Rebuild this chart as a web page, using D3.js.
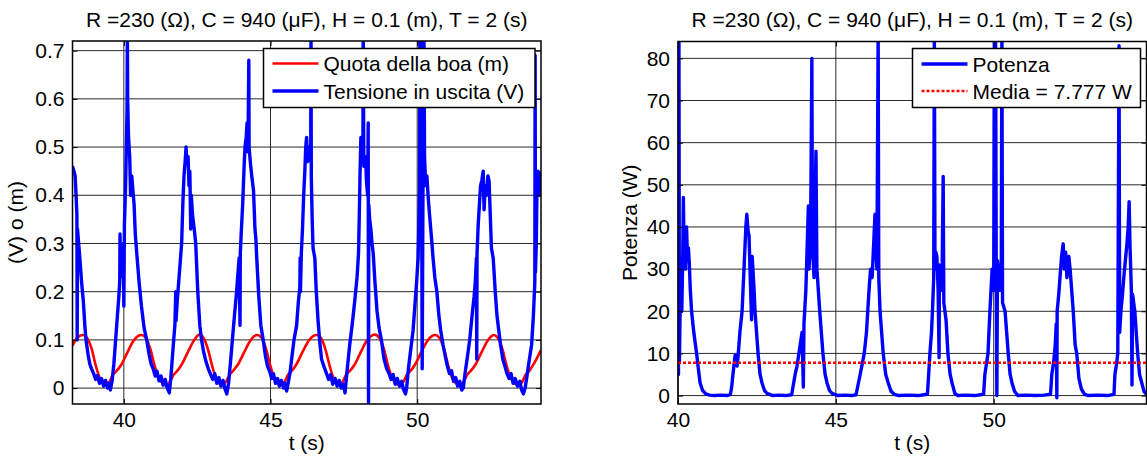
<!DOCTYPE html>
<html>
<head>
<meta charset="utf-8">
<script src="https://cdn.jsdelivr.net/npm/d3@7"></script>
<style>
  body { margin: 0; background: #fff; }
  text { font-family: "Liberation Sans", Arial, Helvetica, sans-serif; fill: #000; }
</style>
</head>
<body>
<svg id="grafico" width="1147" height="457"></svg>
<script>
// titolo comune ai due grafici
const titolo = "R =230 (\u03A9), C = 940 (\u03BCF), H = 0.1 (m), T = 2 (s)";

// quota della boa (m) in funzione del tempo (s)
const tempoQuota = [38.25, 38.4, 38.6, 38.75, 38.9, 39.05, 39.2, 39.38, 39.5, 39.63, 39.73, 39.93, 40.13, 40.33, 40.48, 40.6,
  40.75, 40.9, 41.05, 41.2, 41.45, 41.57, 41.7, 41.8, 42.0, 42.2, 42.38, 42.5, 42.57,
  42.72, 42.87, 43.02, 43.17, 43.35, 43.47, 43.6, 43.7, 43.9, 44.1, 44.3, 44.45, 44.55,
  44.7, 44.85, 45.0, 45.15, 45.35, 45.47, 45.6, 45.7, 45.9, 46.1, 46.3, 46.45, 46.57,
  46.72, 46.87, 47.02, 47.17, 47.33, 47.45, 47.58, 47.68, 47.88, 48.08, 48.28, 48.43, 48.56,
  48.71, 48.86, 49.01, 49.16, 49.4, 49.52, 49.65, 49.75, 49.95, 50.15, 50.35, 50.5, 50.61,
  50.76, 50.91, 51.06, 51.21, 51.45, 51.57, 51.7, 51.8, 52.0, 52.2, 52.4, 52.52, 52.6,
  52.75, 52.9, 53.05, 53.2, 53.45, 53.57, 53.7, 53.8, 54.0, 54.22];
const quotaBoa = [0.088, 0.104, 0.110, 0.104, 0.082, 0.045, 0.018, 0.006, 0.012, 0.028, 0.034, 0.05, 0.075, 0.098, 0.108, 0.110,
  0.104, 0.082, 0.046, 0.02, 0.006, 0.013, 0.028, 0.034, 0.052, 0.077, 0.098, 0.108, 0.111,
  0.104, 0.08, 0.044, 0.016, 0.006, 0.012, 0.027, 0.034, 0.05, 0.074, 0.097, 0.108, 0.110,
  0.104, 0.081, 0.045, 0.018, 0.006, 0.012, 0.028, 0.034, 0.051, 0.076, 0.098, 0.108, 0.110,
  0.104, 0.081, 0.045, 0.017, 0.006, 0.012, 0.028, 0.034, 0.05, 0.075, 0.098, 0.108, 0.111,
  0.104, 0.082, 0.046, 0.019, 0.006, 0.012, 0.028, 0.034, 0.051, 0.076, 0.098, 0.108, 0.110,
  0.104, 0.082, 0.046, 0.019, 0.006, 0.012, 0.027, 0.034, 0.05, 0.075, 0.098, 0.107, 0.110,
  0.104, 0.082, 0.046, 0.019, 0.006, 0.012, 0.028, 0.034, 0.053, 0.079];

// tensione in uscita (V) in funzione del tempo (s)
const tempoTensione = [38.25, 38.3, 38.34, 38.38, 38.4, 38.41, 38.42, 38.46, 38.5, 38.56, 38.62, 38.67, 38.71, 38.78, 38.84, 38.9, 38.97, 39.04, 39.1, 39.17, 39.24, 39.31, 39.38, 39.45, 39.5, 39.54,
  39.6, 39.66, 39.72, 39.78, 39.83, 39.86, 39.87, 39.88, 39.93, 39.98, 40.0, 40.02, 40.06, 40.09, 40.11, 40.12, 40.13, 40.16, 40.2, 40.23, 40.27, 40.31, 40.35, 40.39, 40.44, 40.52, 40.6, 40.69, 40.78, 40.86, 40.93, 41.0, 41.07, 41.13, 41.2, 41.27, 41.34, 41.41, 41.48, 41.55,
  41.6, 41.65, 41.7, 41.74, 41.77, 41.78, 41.82, 41.87, 41.92, 41.97, 42.01, 42.05, 42.09, 42.12, 42.15, 42.19, 42.22, 42.25, 42.28, 42.3, 42.34, 42.4, 42.45, 42.52, 42.59, 42.65, 42.72, 42.8, 42.88, 42.96, 43.03, 43.1, 43.17, 43.24, 43.31, 43.38, 43.45, 43.51,
  43.57, 43.63, 43.7, 43.77, 43.83, 43.88, 43.93, 43.96, 43.97, 44.0, 44.05, 44.1, 44.13, 44.17, 44.2, 44.23, 44.26, 44.27, 44.31, 44.36, 44.42, 44.47, 44.5, 44.53, 44.6, 44.67, 44.75, 44.83, 44.9, 44.97, 45.04, 45.1, 45.17, 45.24, 45.3, 45.37, 45.45, 45.5, 45.55,
  45.6, 45.66, 45.72, 45.8, 45.89, 45.95, 46.0, 46.01, 46.02, 46.05, 46.09, 46.13, 46.17, 46.2, 46.23, 46.26, 46.3, 46.37, 46.38, 46.39, 46.42, 46.45, 46.51, 46.56, 46.62, 46.68, 46.74, 46.82, 46.91, 46.98, 47.05, 47.12, 47.2, 47.27, 47.34, 47.41, 47.48, 47.54,
  47.6, 47.65, 47.7, 47.78, 47.87, 47.95, 48.0, 48.03, 48.05, 48.08, 48.11, 48.15, 48.16, 48.18, 48.2, 48.24, 48.27, 48.31, 48.33, 48.34, 48.35, 48.38, 48.42, 48.46, 48.5, 48.56, 48.63, 48.7, 48.78, 48.87, 48.96, 49.04, 49.11, 49.18, 49.25, 49.32, 49.4, 49.47, 49.53, 49.6,
  49.64, 49.7, 49.78, 49.86, 49.92, 49.98, 50.03, 50.06, 50.08, 50.09, 50.1, 50.11, 50.12, 50.13, 50.15, 50.17, 50.2, 50.22, 50.23, 50.25, 50.29, 50.33, 50.37, 50.42, 50.49, 50.54, 50.6, 50.67, 50.74, 50.8, 50.88, 50.96, 51.03, 51.1, 51.17, 51.24, 51.31, 51.38, 51.45, 51.52,
  51.57, 51.63, 51.7, 51.79, 51.87, 51.94, 51.98, 52.02, 52.03, 52.04, 52.08, 52.12, 52.16, 52.2, 52.25, 52.28, 52.32, 52.36, 52.41, 52.45, 52.49, 52.53, 52.59, 52.66, 52.72, 52.76, 52.84, 52.92, 52.99, 53.06, 53.13, 53.2, 53.27, 53.34, 53.42, 53.5, 53.56, 53.62,
  53.68, 53.73, 53.8, 53.9, 53.96, 54.01, 54.02, 54.03, 54.06, 54.08, 54.12, 54.15, 54.18, 54.2, 54.22];
const tensione = [0.46, 0.45, 0.44, 0.39, 0.36, 0.10, 0.33, 0.30, 0.27, 0.22, 0.18, 0.13, 0.10, 0.07, 0.05, 0.04, 0.03, 0.018, 0.026, 0.01, 0.02, 0.004, 0.016, 0.0, 0.01, -0.004,
  0.015, 0.05, 0.1, 0.15, 0.19, 0.22, 0.32, 0.23, 0.26, 0.30, 0.17, 0.34, 0.42, 0.52, 0.58, 0.75, 0.6, 0.52, 0.48, 0.40, 0.44, 0.41, 0.38, 0.32, 0.28, 0.22, 0.17, 0.125, 0.1, 0.07, 0.05, 0.04, 0.025, 0.035, 0.015, 0.025, 0.006, 0.018, 0.0, -0.01,
  0.02, 0.06, 0.1, 0.13, 0.2, 0.14, 0.18, 0.22, 0.26, 0.3, 0.38, 0.44, 0.47, 0.50, 0.47, 0.48, 0.42, 0.45, 0.33, 0.40, 0.36, 0.33, 0.3, 0.2, 0.13, 0.1, 0.075, 0.055, 0.04, 0.028, 0.018, 0.03, 0.01, 0.022, 0.004, 0.016, -0.002, -0.012,
  0.01, 0.05, 0.1, 0.15, 0.19, 0.23, 0.27, 0.13, 0.28, 0.32, 0.38, 0.46, 0.5, 0.52, 0.55, 0.49, 0.68, 0.5, 0.47, 0.44, 0.41, 0.33, 0.31, 0.27, 0.19, 0.13, 0.1, 0.065, 0.045, 0.035, 0.02, 0.03, 0.01, 0.02, 0.004, 0.016, 0.0, 0.01, -0.006,
  0.01, 0.03, 0.06, 0.1, 0.13, 0.18, 0.21, 0.27, 0.2, 0.28, 0.33, 0.40, 0.45, 0.5, 0.52, 0.47, 0.5, 0.47, 0.75, 0.44, 0.35, 0.29, 0.27, 0.2, 0.14, 0.095, 0.06, 0.045, 0.03, 0.018, 0.028, 0.008, 0.02, 0.004, 0.016, 0.0, 0.008, -0.01,
  0.03, 0.06, 0.09, 0.13, 0.18, 0.23, 0.28, 0.37, 0.44, 0.52, 0.48, 0.5, 0.75, 0.46, 0.47, 0.48, 0.43, 0.4, 0.55, -0.04, 0.38, 0.35, 0.33, 0.3, 0.28, 0.22, 0.16, 0.125, 0.1, 0.06, 0.04, 0.03, 0.018, 0.028, 0.008, 0.02, 0.004, 0.014, -0.002, -0.012,
  0.0, 0.04, 0.08, 0.12, 0.17, 0.22, 0.27, 0.35, 0.42, 0.75, 0.45, 0.75, 0.48, 0.5, 0.45, 0.04, 0.46, 0.45, 0.75, 0.48, 0.42, 0.44, 0.40, 0.36, 0.31, 0.27, 0.23, 0.2, 0.15, 0.12, 0.09, 0.065, 0.045, 0.03, 0.036, 0.014, 0.022, 0.004, 0.014, -0.004,
  0.0, 0.03, 0.06, 0.1, 0.15, 0.19, 0.22, 0.27, 0.06, 0.28, 0.34, 0.38, 0.42, 0.43, 0.45, 0.37, 0.42, 0.4, 0.44, 0.43, 0.36, 0.29, 0.27, 0.2, 0.15, 0.13, 0.09, 0.06, 0.045, 0.03, 0.02, 0.03, 0.01, 0.02, 0.004, 0.014, -0.004, -0.012,
  0.0, 0.02, 0.05, 0.09, 0.15, 0.22, 0.69, 0.24, 0.3, 0.4, 0.45, 0.43, 0.4, 0.42, 0.45];

// potenza (W) in funzione del tempo (s)
const tempoPotenza = [40.0, 40.015, 40.03, 40.045, 40.07, 40.09, 40.12, 40.15, 40.17, 40.19, 40.21, 40.24, 40.27, 40.3, 40.33, 40.36, 40.39, 40.43, 40.5, 40.59, 40.65, 40.7, 40.78, 40.88, 41.0, 41.15, 41.35, 41.55,
  41.66, 41.7, 41.74, 41.81, 41.87, 41.9, 41.96, 42.03, 42.09, 42.15, 42.18, 42.22, 42.25, 42.28, 42.33, 42.35, 42.41, 42.44, 42.54, 42.6, 42.66, 42.74, 42.82, 43.0, 43.2, 43.4,
  43.6, 43.71, 43.77, 43.83, 43.93, 43.97, 43.99, 44.05, 44.13, 44.15, 44.2, 44.24, 44.26, 44.31, 44.37, 44.4, 44.49, 44.59, 44.66, 44.72, 44.8, 44.88, 45.07, 45.3, 45.5,
  45.64, 45.77, 45.9, 45.97, 46.01, 46.06, 46.1, 46.15, 46.18, 46.21, 46.24, 46.27, 46.3, 46.34, 46.36, 46.4, 46.5, 46.58, 46.66, 46.75, 46.85, 47.0, 47.3, 47.6,
  47.9, 47.94, 47.98, 48.03, 48.06, 48.1, 48.12, 48.14, 48.17, 48.2, 48.24, 48.27, 48.28, 48.32, 48.36, 48.4, 48.42, 48.49, 48.55, 48.62, 48.68, 48.77, 48.87, 49.1, 49.4,
  49.68, 49.72, 49.78, 49.82, 49.88, 49.95, 50.0, 50.02, 50.04, 50.06, 50.08, 50.1, 50.12, 50.17, 50.2, 50.24, 50.26, 50.28, 50.36, 50.46, 50.52, 50.58, 50.66, 50.77, 51.0, 51.3, 51.6,
  51.8, 51.84, 51.9, 51.95, 51.98, 52.0, 52.01, 52.06, 52.1, 52.15, 52.2, 52.24, 52.28, 52.32, 52.38, 52.42, 52.47, 52.52, 52.58, 52.63, 52.7, 52.78, 52.88, 53.0, 53.3, 53.6,
  53.81, 53.84, 53.9, 53.93, 53.97, 53.99, 54.03, 54.08, 54.12, 54.17, 54.22, 54.26, 54.29, 54.32, 54.36, 54.38, 54.4, 54.47, 54.56, 54.62, 54.69, 54.76, 54.84];
const potenza = [17, 5, 86, 8, 22, 26, 20, 33, 47, 35, 40, 30, 40, 33, 35, 31, 25, 20, 15, 10, 6, 3, 1.2, 0.4, 0.1, 0, 0.1, 0,
  0.3, 2, 5, 9.6, 7, 9, 15, 20, 30, 40, 43, 39, 38, 30, 18, 33, 25, 20, 9.6, 5, 3, 1.2, 0.5, 0, 0.1, 0,
  0.2, 5, 7, 10, 15, 2, 17, 25, 45, 30, 38, 80, 35, 28, 58, 30, 20, 10, 5, 3, 1.2, 0.5, 0, 0.1, 0,
  0.2, 5, 10, 15, 20, 26, 30, 28, 33, 38, 43, 35, 30, 86, 28, 20, 10, 5, 3, 1, 0.3, 0, 0.1, 0,
  0.3, 5, 10, 15, 20, 28, 86, 30, 34, 33, 25, 9, 31, 28, 25, 52, 22, 18, 10, 5, 3, 0.5, 0, 0.1, 0,
  0.3, 5, 8, 10, 20, 30, 25, 86, 36, 86, 30, 0, 32, 28, 25, 30, 86, 22, 20, 10, 5, 3, 1, 0, 0.1, 0, 0.1,
  0.3, 5, 8, 12, 17, -0.5, 20, 24, 28, 33, 36, 30, 34, 28, 33, 30, 25, 20, 12, 10, 4, 1.5, 0.3, 0, 0.1, 0,
  0.3, 5, 8, 10, 83, 15, 20, 24, 28, 32, 36, 40, 46, 35, 25, 2.5, 24, 20, 10, 5, 3, 1, 0.3];

const mediaPotenza = 7.777;

// tick degli assi
const tickTempoSx = [40, 45, 50];
const tickTensione = [0, 0.1, 0.2, 0.3, 0.4, 0.5, 0.6, 0.7];
const tickTempoDx = [40, 45, 50];
const tickPotenza = [0, 10, 20, 30, 40, 50, 60, 70, 80];

const rosso = "#ff0000";
const blu = "#0000ff";
const fontSize = 21;
const fontFamily = "'Liberation Sans', Arial, Helvetica, sans-serif";

const svg = d3.select("#grafico");

function serie(tempi, valori) {
  return tempi.map((t, i) => ({t: t, v: valori[i]}));
}

// disegna un pannello con griglia, linee, assi e legenda
function disegnaPannello(cfg) {
  const g = svg.append("g");
  const x = d3.scaleLinear().domain(cfg.xDominio).range([cfg.sinistra, cfg.destra]);
  const y = d3.scaleLinear().domain(cfg.yDominio).range([cfg.basso, cfg.alto]);

  g.append("clipPath").attr("id", cfg.id)
    .append("rect")
      .attr("x", cfg.sinistra).attr("y", cfg.alto)
      .attr("width", cfg.destra - cfg.sinistra).attr("height", cfg.basso - cfg.alto);

  // griglia
  const griglia = g.append("g").attr("stroke", "#2a2a2a").attr("stroke-width", 1);
  griglia.selectAll(".gx").data(cfg.xTick).join("line")
    .attr("x1", d => x(d)).attr("x2", d => x(d))
    .attr("y1", cfg.alto).attr("y2", cfg.basso);
  griglia.selectAll(".gy").data(cfg.yTick).join("line")
    .attr("x1", cfg.sinistra).attr("x2", cfg.destra)
    .attr("y1", d => y(d)).attr("y2", d => y(d));

  // linee dei dati
  const linea = d3.line().x(d => x(d.t)).y(d => y(d.v));
  const dati = g.append("g").attr("clip-path", "url(#" + cfg.id + ")");
  cfg.linee.forEach(l => {
    dati.append("path")
      .datum(l.dati)
      .attr("fill", "none")
      .attr("stroke", l.colore)
      .attr("stroke-width", l.spessore)
      .attr("stroke-dasharray", l.tratteggio || null)
      .attr("stroke-linejoin", "round")
      .attr("d", linea.curve(l.curva || d3.curveLinear));
  });

  // assi con tick verso l'interno
  const assi = g.append("g");
  assi.append("g")
      .attr("transform", "translate(0," + cfg.basso + ")")
      .call(d3.axisBottom(x).tickValues(cfg.xTick).tickSize(-5).tickPadding(8).tickFormat(d3.format("d")));
  assi.append("g")
      .attr("transform", "translate(0," + cfg.alto + ")")
      .call(d3.axisTop(x).tickValues(cfg.xTick).tickSize(-5).tickFormat(""));
  assi.append("g")
      .attr("transform", "translate(" + cfg.sinistra + ",0)")
      .call(d3.axisLeft(y).tickValues(cfg.yTick).tickSize(-5).tickPadding(8).tickFormat(cfg.yFormato));
  assi.append("g")
      .attr("transform", "translate(" + cfg.destra + ",0)")
      .call(d3.axisRight(y).tickValues(cfg.yTick).tickSize(-5).tickFormat(""));
  assi.selectAll(":scope > g").attr("font-size", fontSize).attr("font-family", fontFamily);
  assi.selectAll(".domain").remove();
  assi.selectAll(".tick line").attr("stroke", "#000");
  assi.selectAll(".tick text").attr("fill", "#000");

  // cornice
  g.append("rect")
    .attr("x", cfg.sinistra).attr("y", cfg.alto)
    .attr("width", cfg.destra - cfg.sinistra).attr("height", cfg.basso - cfg.alto)
    .attr("fill", "none").attr("stroke", "#000").attr("stroke-width", 1.5);

  // titolo ed etichette
  const centro = (cfg.sinistra + cfg.destra) / 2;
  g.append("text").attr("x", centro).attr("y", 27)
    .attr("text-anchor", "middle").attr("font-size", fontSize).text(titolo);
  g.append("text").attr("x", centro).attr("y", 450)
    .attr("text-anchor", "middle").attr("font-size", fontSize).text("t (s)");
  g.append("text")
    .attr("transform", "translate(" + cfg.xEtichettaY + "," + ((cfg.alto + cfg.basso) / 2) + ") rotate(-90)")
    .attr("text-anchor", "middle").attr("font-size", fontSize).text(cfg.etichettaY);

  // legenda
  const leg = cfg.legenda;
  const gl = g.append("g");
  gl.append("rect")
    .attr("x", leg.x).attr("y", leg.y).attr("width", leg.w).attr("height", leg.h)
    .attr("fill", "#fff").attr("stroke", "#000").attr("stroke-width", 1.5);
  cfg.linee.forEach((l, i) => {
    const yy = leg.y + leg.riga0 + i * leg.passo;
    gl.append("line")
      .attr("x1", leg.x + 9).attr("x2", leg.x + 55)
      .attr("y1", yy).attr("y2", yy)
      .attr("stroke", l.colore).attr("stroke-width", l.spessore)
      .attr("stroke-dasharray", l.tratteggio || null);
    gl.append("text")
      .attr("x", leg.x + 60).attr("y", yy).attr("dy", "0.38em")
      .attr("font-size", fontSize).text(l.nome);
  });
}

disegnaPannello({
  id: "clip-sx",
  sinistra: 72.5, destra: 541, alto: 41, basso: 404,
  xDominio: [38.25, 54.22], yDominio: [-0.033, 0.72],
  xTick: tickTempoSx, yTick: tickTensione,
  yFormato: d => d === 0 ? "0" : d3.format(".1f")(d),
  etichettaY: "(V) o (m)", xEtichettaY: 23,
  linee: [
    {nome: "Quota della boa (m)", colore: rosso, spessore: 2.6, dati: serie(tempoQuota, quotaBoa), curva: d3.curveMonotoneX},
    {nome: "Tensione in uscita (V)", colore: blu, spessore: 3.4, dati: serie(tempoTensione, tensione)}
  ],
  legenda: {x: 263.5, y: 48.5, w: 271.5, h: 59, riga0: 15, passo: 27.5}
});

disegnaPannello({
  id: "clip-dx",
  sinistra: 678, destra: 1146.5, alto: 41.5, basso: 404,
  xDominio: [40, 54.84], yDominio: [-2, 84],
  xTick: tickTempoDx, yTick: tickPotenza,
  yFormato: d3.format("d"),
  etichettaY: "Potenza (W)", xEtichettaY: 637,
  linee: [
    {nome: "Potenza", colore: blu, spessore: 3.4, dati: serie(tempoPotenza, potenza)},
    {nome: "Media = 7.777 W", colore: rosso, spessore: 2.6, tratteggio: "3,2",
      dati: serie([40, 54.84], [mediaPotenza, mediaPotenza])}
  ],
  legenda: {x: 912.5, y: 48.5, w: 228, h: 59, riga0: 15.5, passo: 27}
});
</script>
</body>
</html>
